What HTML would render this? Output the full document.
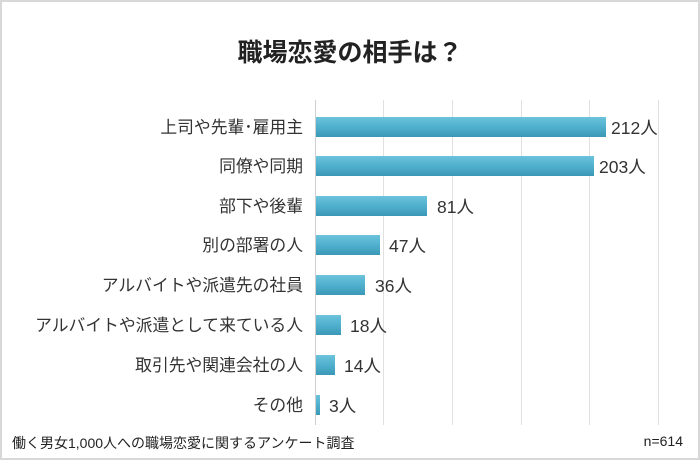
<!DOCTYPE html>
<html><head><meta charset="utf-8"><style>
body{margin:0;width:700px;height:460px;background:#fff;font-family:"Liberation Sans","Noto Sans CJK JP",sans-serif;overflow:hidden}
</style></head><body>
<svg width="700" height="460" xmlns="http://www.w3.org/2000/svg" font-family="Liberation Sans, Noto Sans CJK JP, sans-serif">
<defs><linearGradient id="g" x1="0" y1="0" x2="0" y2="1"><stop offset="0" stop-color="#6cc3dc"/><stop offset="0.5" stop-color="#4fb0cd"/><stop offset="1" stop-color="#3a98b6"/></linearGradient></defs>
<rect x="1" y="1" width="698" height="458" fill="#fff" stroke="#d8d8d8" stroke-width="2"/>
<text x="350" y="61" font-size="25" font-weight="bold" text-anchor="middle" fill="#222">職場恋愛の相手は？</text>
<g stroke="#e0e0e0" stroke-width="1">
<line x1="383.5" y1="100" x2="383.5" y2="425"/><line x1="452.5" y1="100" x2="452.5" y2="425"/><line x1="521.5" y1="100" x2="521.5" y2="425"/><line x1="589.5" y1="100" x2="589.5" y2="425"/><line x1="658.5" y1="100" x2="658.5" y2="425"/>
</g>
<line x1="315.5" y1="100" x2="315.5" y2="425" stroke="#cfcfcf"/>
<g fill="url(#g)">
<rect x="316" y="117" width="290" height="20"/>
<rect x="316" y="156" width="278" height="20"/>
<rect x="316" y="196" width="111" height="20"/>
<rect x="316" y="235" width="64" height="20"/>
<rect x="316" y="275" width="49" height="20"/>
<rect x="316" y="315" width="25" height="20"/>
<rect x="316" y="355" width="19" height="20"/>
<rect x="316" y="395" width="4" height="20"/>
</g>
<g font-size="16.8" fill="#333" text-anchor="end">
<text x="303" y="133">上司や先輩･雇用主</text>
<text x="303" y="172">同僚や同期</text>
<text x="303" y="212">部下や後輩</text>
<text x="303" y="251">別の部署の人</text>
<text x="303" y="291">アルバイトや派遣先の社員</text>
<text x="303" y="331">アルバイトや派遣として来ている人</text>
<text x="303" y="371">取引先や関連会社の人</text>
<text x="303" y="411">その他</text>
</g>
<g font-size="17.5" fill="#333">
<text x="611" y="134">212人</text>
<text x="599" y="173">203人</text>
<text x="437" y="213">81人</text>
<text x="389" y="252">47人</text>
<text x="375" y="292">36人</text>
<text x="350" y="332">18人</text>
<text x="344" y="372">14人</text>
<text x="329" y="412">3人</text>
</g>
<text x="12" y="448" font-size="14" fill="#222">働く男女1,000人への職場恋愛に関するアンケート調査</text>
<text x="683" y="446" font-size="14" fill="#222" text-anchor="end">n=614</text>
</svg>
</body></html>
